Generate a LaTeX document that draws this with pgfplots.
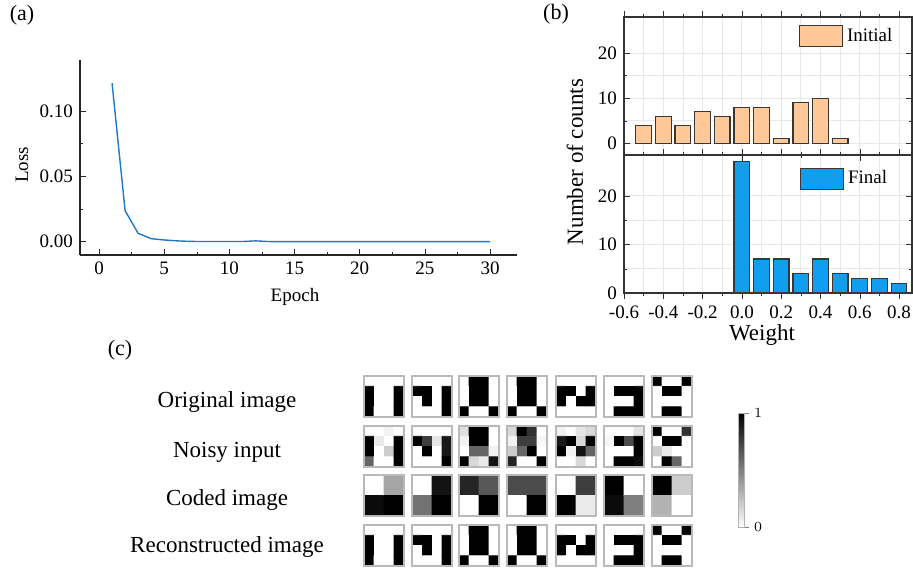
\documentclass[border=0pt]{standalone}
\usepackage{fontspec}
\setmainfont{Liberation Serif}
\usepackage{pgfplots}
\pgfplotsset{compat=1.18}

\definecolor{lossblue}{RGB}{31,119,200}
\definecolor{initfill}{RGB}{255,200,150}
\definecolor{finalfill}{RGB}{18,158,238}
\definecolor{baredge}{RGB}{55,55,55}

\newcommand{\fs}[1]{\fontsize{#1}{#1}\selectfont}

\pgfplotsset{
  imgbase/.style={scale only axis, width=20pt, height=20.5pt, anchor=north west,
    y dir=reverse, axis on top, axis line style={gray!55, line width=0.6pt},
    ticks=none, colormap={inv}{gray(0cm)=(1); gray(1cm)=(0)},
    point meta min=0, point meta max=1},
  img4/.style={imgbase, xmin=-0.5, xmax=3.5, ymin=-0.5, ymax=3.5},
  img2/.style={imgbase, xmin=-0.5, xmax=1.5, ymin=-0.5, ymax=1.5},
  bpanel/.style={scale only axis, width=144pt, height=69pt, anchor=south west,
    xmin=-0.6, xmax=0.866, xtick={-0.6,-0.4,-0.2,0,0.2,0.4,0.6,0.8},
    minor x tick num=1, ytick={0,10,20}, minor y tick num=1,
    grid=both, major grid style={gray!18, line width=0.4pt},
    minor grid style={gray!18, line width=0.4pt},
    tick align=inside, major tick length=3pt, minor tick length=1.5pt,
    axis line style={line width=0.6pt, black!80},
    tick style={black!80},
    ybar, bar width=0.08,
    tick label style={font=\fs{9.5}},
    /pgf/number format/assume math mode=true,
    legend cell align=left,
    legend image code/.code={\draw[##1] (0pt,-5.25pt) rectangle (21.5pt,5.25pt);},
    legend style={draw=none, fill=none, inner sep=0pt, font=\fs{9.5},
      nodes={inner sep=2pt}}},
}

% 4x4 images (0 = white, 1 = black), row by row from the top
\def\origA{(0,0)[0] (1,0)[0] (2,0)[0] (3,0)[0] (0,1)[1] (1,1)[0] (2,1)[0] (3,1)[1] (0,2)[1] (1,2)[0] (2,2)[0] (3,2)[1] (0,3)[1] (1,3)[0] (2,3)[0] (3,3)[1]}
\def\noisA{(0,0)[0] (1,0)[0] (2,0)[0.05] (3,0)[0] (0,1)[1] (1,1)[0.08] (2,1)[0] (3,1)[1] (0,2)[1] (1,2)[0] (2,2)[0.2] (3,2)[1] (0,3)[0.6] (1,3)[0] (2,3)[0] (3,3)[1]}
\def\codeA{(0,0)[0] (1,0)[0.35] (0,1)[0.95] (1,1)[1]}

\def\origB{(0,0)[0] (1,0)[0] (2,0)[0] (3,0)[0] (0,1)[1] (1,1)[1] (2,1)[0] (3,1)[1] (0,2)[0] (1,2)[1] (2,2)[0] (3,2)[1] (0,3)[0] (1,3)[0] (2,3)[0] (3,3)[1]}
\def\noisB{(0,0)[0] (1,0)[0] (2,0)[0] (3,0)[0] (0,1)[1] (1,1)[0.75] (2,1)[0.1] (3,1)[0.9] (0,2)[0] (1,2)[1] (2,2)[0] (3,2)[0.9] (0,3)[0] (1,3)[0] (2,3)[0] (3,3)[1]}
\def\codeB{(0,0)[0] (1,0)[0.92] (0,1)[0.55] (1,1)[1]}

\def\origC{(0,0)[0] (1,0)[1] (2,0)[1] (3,0)[0] (0,1)[0] (1,1)[1] (2,1)[1] (3,1)[0] (0,2)[0] (1,2)[1] (2,2)[1] (3,2)[0] (0,3)[1] (1,3)[0] (2,3)[0] (3,3)[1]}
\def\noisC{(0,0)[0.12] (1,0)[1] (2,0)[1] (3,0)[0] (0,1)[0.05] (1,1)[1] (2,1)[1] (3,1)[0] (0,2)[0] (1,2)[0.6] (2,2)[0.6] (3,2)[0.05] (0,3)[1] (1,3)[0.15] (2,3)[0.08] (3,3)[0.92]}
\def\codeC{(0,0)[0.85] (1,0)[0.65] (0,1)[0] (1,1)[1]}

\def\noisD{(0,0)[0.15] (1,0)[1] (2,0)[0.8] (3,0)[0] (0,1)[0.05] (1,1)[0.75] (2,1)[0.75] (3,1)[0.03] (0,2)[0.2] (1,2)[0.6] (2,2)[1] (3,2)[0] (0,3)[0.85] (1,3)[0] (2,3)[0] (3,3)[1]}
\def\codeD{(0,0)[0.7] (1,0)[0.7] (0,1)[0] (1,1)[1]}

\def\origE{(0,0)[0] (1,0)[0] (2,0)[0] (3,0)[0] (0,1)[1] (1,1)[1] (2,1)[0] (3,1)[1] (0,2)[1] (1,2)[0] (2,2)[1] (3,2)[1] (0,3)[0] (1,3)[0] (2,3)[0] (3,3)[0]}
\def\noisE{(0,0)[0.05] (1,0)[0] (2,0)[0.1] (3,0)[0.15] (0,1)[0.9] (1,1)[1] (2,1)[0.15] (3,1)[1] (0,2)[1] (1,2)[0.05] (2,2)[0.92] (3,2)[0.6] (0,3)[0] (1,3)[0] (2,3)[0.15] (3,3)[0]}
\def\codeE{(0,0)[0] (1,0)[0.75] (0,1)[1] (1,1)[0.08]}

\def\origF{(0,0)[0] (1,0)[0] (2,0)[0] (3,0)[0] (0,1)[0] (1,1)[1] (2,1)[1] (3,1)[1] (0,2)[0] (1,2)[0] (2,2)[0] (3,2)[1] (0,3)[0] (1,3)[1] (2,3)[1] (3,3)[1]}
\def\noisF{(0,0)[0] (1,0)[0] (2,0)[0] (3,0)[0.1] (0,1)[0.03] (1,1)[1] (2,1)[0.7] (3,1)[1] (0,2)[0] (1,2)[0] (2,2)[0] (3,2)[1] (0,3)[0] (1,3)[1] (2,3)[1] (3,3)[0.95]}
\def\codeF{(0,0)[1] (1,0)[0] (0,1)[0.95] (1,1)[0.5]}

\def\origG{(0,0)[1] (1,0)[0] (2,0)[0] (3,0)[1] (0,1)[0] (1,1)[1] (2,1)[1] (3,1)[0] (0,2)[0] (1,2)[0] (2,2)[0] (3,2)[0] (0,3)[0] (1,3)[1] (2,3)[1] (3,3)[0]}
\def\noisG{(0,0)[1] (1,0)[0] (2,0)[0] (3,0)[0.8] (0,1)[0] (1,1)[1] (2,1)[1] (3,1)[0] (0,2)[0.2] (1,2)[0.08] (2,2)[0] (3,2)[0] (0,3)[0] (1,3)[1] (2,3)[0.6] (3,3)[0]}
\def\codeG{(0,0)[1] (1,0)[0.2] (0,1)[0.3] (1,1)[0]}

\newcommand{\imgfour}[3]{\begin{axis}[img4, at={(#1,#2)}]
\addplot[matrix plot*, mesh/cols=4, point meta=explicit] coordinates {#3};
\end{axis}}
\newcommand{\imgtwo}[3]{\begin{axis}[img2, at={(#1,#2)}]
\addplot[matrix plot*, mesh/cols=2, point meta=explicit] coordinates {#3};
\end{axis}}
\newcommand{\column}[5]{%
\imgfour{#1}{-188pt}{#2}
\imgfour{#1}{-213pt}{#3}
\imgtwo{#1}{-237.5pt}{#4}
\imgfour{#1}{-262.5pt}{#5}}

\begin{document}
\begin{tikzpicture}

% ---------- (a) loss curve ----------
\begin{axis}[scale only axis, width=218.5pt, height=97.5pt,
  at={(40pt,-127.5pt)}, anchor=south west,
  xmin=-1.46, xmax=32.07, ymin=-0.0102, ymax=0.139,
  axis x line*=bottom, axis y line*=left,
  axis line style={line width=0.6pt, black!85},
  xtick={0,5,...,30}, ytick={0,0.05,0.1}, minor x tick num=1, minor y tick num=1,
  tick align=inside, major tick length=3pt, minor tick length=1.5pt,
  tick style={black!85},
  tick label style={font=\fs{9.5}},
  /pgf/number format/assume math mode=true,
  yticklabel={\pgfmathprintnumber[fixed,fixed zerofill,precision=2,assume math mode=true]{\tick}}]
\addplot[lossblue, line width=0.7pt] coordinates {
 (1,0.1212) (2,0.0237) (3,0.0064) (4,0.0023) (5,0.0013) (6,0.0006) (7,0.0002)
 (8,0.0001) (9,0.0001) (10,0.0001) (11,0.0001) (12,0.0006) (13,0.0001)
 (14,0) (15,0) (16,0) (17,0) (18,0) (19,0) (20,0) (21,0) (22,0) (23,0)
 (24,0) (25,0) (26,0) (27,0) (28,0) (29,0) (30,0)};
\end{axis}
\node[font=\fs{11}] at (11pt,-7.5pt) {(a)};
\node[font=\fs{9.5}, rotate=90] at (11pt,-82.5pt) {Loss};
\node[font=\fs{9.5}] at (147.5pt,-148.5pt) {Epoch};

% ---------- (b) weight histograms ----------
\begin{axis}[bpanel, at={(312pt,-77.5pt)}, ymin=-2.6, ymax=28,
  xticklabels={},
  legend style={at={(axis cs:0.288,26.5)}, anchor=north west}]
\addplot[fill=initfill, draw=baredge, line width=0.6pt] coordinates {
 (-0.5,4) (-0.4,6) (-0.3,4) (-0.2,7) (-0.1,6) (0,8) (0.1,8) (0.2,1) (0.3,9) (0.4,10) (0.5,1)};
\addlegendentry{Initial}
\end{axis}
\begin{axis}[bpanel, at={(312pt,-146.5pt)}, ymin=0, ymax=28.4,
  xticklabel={\pgfmathprintnumber[fixed,fixed zerofill,precision=1,assume math mode=true]{\tick}},
  legend style={at={(axis cs:0.293,26.1)}, anchor=north west}]
\addplot[fill=finalfill, draw=baredge, line width=0.6pt] coordinates {
 (0,27) (0.1,7) (0.2,7) (0.3,4) (0.4,7) (0.5,4) (0.6,3) (0.7,3) (0.8,2)};
\addlegendentry{Final}
\end{axis}
\node[font=\fs{11}] at (278pt,-7pt) {(b)};
\node[font=\fs{11.5}, rotate=90] at (287.5pt,-81pt) {Number of counts};
\node[font=\fs{11.5}] at (381pt,-167.5pt) {Weight};

% ---------- (c) images ----------
\node[font=\fs{11}] at (60pt,-175pt) {(c)};
\node[font=\fs{11.5}] at (113.5pt,-201pt) {Original image};
\node[font=\fs{11.5}] at (113.5pt,-226pt) {Noisy input};
\node[font=\fs{11.5}] at (113.5pt,-250pt) {Coded image};
\node[font=\fs{11.5}] at (113.5pt,-273.5pt) {Reconstructed image};

\column{182pt}{\origA}{\noisA}{\codeA}{\origA}
\column{206pt}{\origB}{\noisB}{\codeB}{\origB}
\column{229.5pt}{\origC}{\noisC}{\codeC}{\origC}
\column{253.5pt}{\origC}{\noisD}{\codeD}{\origC}
\column{278pt}{\origE}{\noisE}{\codeE}{\origE}
\column{302pt}{\origF}{\noisF}{\codeF}{\origF}
\column{326pt}{\origG}{\noisG}{\codeG}{\origG}

% colour bar
\begin{axis}[scale only axis, width=3pt, height=57pt, at={(369pt,-206.5pt)}, anchor=north west,
  xmin=0, xmax=1, ymin=0, ymax=1, xtick=\empty, ytick={0,1},
  ytick pos=right, yticklabel pos=right, tick align=outside, major tick length=2.5pt,
  axis line style={gray!60, line width=0.5pt}, axis on top,
  yticklabel style={font=\bfseries\fs{7}, xshift=-1pt},
  colormap={inv}{gray(0cm)=(1); gray(1cm)=(0)}, point meta min=0, point meta max=1]
\addplot[patch, shader=interp, point meta=explicit] coordinates {
 (0,0)[0] (1,0)[0] (1,1)[1] (0,0)[0] (1,1)[1] (0,1)[1]};
\end{axis}

\pgfresetboundingbox
\path (0,0) rectangle (456.5pt,-285.5pt);
\end{tikzpicture}
\end{document}
